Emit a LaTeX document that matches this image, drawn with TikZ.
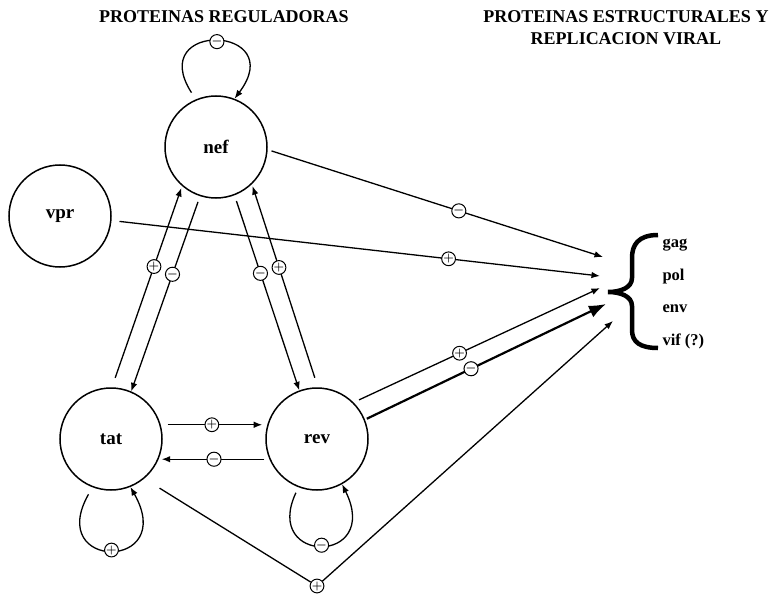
\documentclass[tikz,border=0pt]{standalone}
\usepackage{fontspec}
\setmainfont{Liberation Serif}
\usetikzlibrary{arrows.meta,positioning}

\begin{document}
\begin{tikzpicture}[
  x=1pt, y=-1pt,
  font=\bfseries,
  protein/.style={draw, circle, line width=1.5pt, minimum size=102pt, inner sep=0pt, font=\fontsize{19}{22}\selectfont\bfseries},
  sign/.style={draw, circle, line width=1pt, fill=white, minimum size=13.5pt, inner sep=0pt, font=\fontsize{12}{12}\selectfont\boldmath},
  heading/.style={align=center, font=\fontsize{18}{22}\selectfont\bfseries},
  gene/.style={anchor=west, font=\fontsize{16.5}{18}\selectfont\bfseries},
  link/.style={line width=1.3pt},
  arrow/.style={link, -{Latex[length=3mm, width=2.3mm]}},
  bigarrow/.style={line width=2.2pt, -{Latex[length=6mm, width=4.5mm]}}
]
  \useasboundingbox (0,0) rectangle (782,599);

  % headings
  \node[heading] (hreg) at (224,17) {PROTEINAS REGULADORAS};
  \node[heading] (hest) at (626,28) {PROTEINAS ESTRUCTURALES Y\\REPLICACION VIRAL};

  % regulatory proteins
  \node[protein] (nef) at (216,147) {nef};
  \node[protein] (vpr) at (60,216) {vpr};
  \node[protein] (tat) at (111,439) {tat};
  \node[protein] (rev) at (317,439) {rev};

  % structural genes
  \node[gene] (gag) at (659,245) {gag};
  \node[gene] (pol) at (659,277) {pol};
  \node[gene] (env) at (659,309) {env};
  \node[gene] (vif) at (659,341) {vif (?)};
  \draw[line width=4.5pt] (658,235) .. controls (638,235) and (632,245) .. (632,258) -- (632,278)
    .. controls (632,288) and (620,292) .. (608,292)
    .. controls (620,292) and (632,296) .. (632,306) -- (632,330)
    .. controls (632,342) and (640,348) .. (658,348);
  \coordinate (t1) at (603,257);
  \coordinate (t2) at (600,276);
  \coordinate (t3) at (600,288);
  \coordinate (t4) at (606,304);
  \coordinate (t5) at (613,321);

  % self loops
  \draw[arrow, shorten <=8pt] (nef.113) .. controls (145,20) and (290,25) .. node[sign, pos=.5] (snef) {$-$} (nef.69);
  \draw[arrow, shorten <=8pt] (tat.249) .. controls (45,571) and (178,571) .. node[sign, pos=.5] (stat) {$+$} (tat.292);
  \draw[arrow, shorten <=6pt] (rev.249) .. controls (262,565) and (382,565) .. node[sign, pos=.5] (srev) {$-$} (rev.299);

  % nef <-> tat, nef <-> rev
  \draw[arrow, shorten <=10pt, shorten >=2pt] (tat.89) -- node[sign, pos=.6] (s1) {$+$} (nef.229);
  \draw[arrow, shorten <=6pt] (nef.252) -- node[sign, pos=.4] (s2) {$-$} (tat.67);
  \draw[arrow, shorten <=6pt] (nef.291) -- node[sign, pos=.4] (s3) {$-$} (rev.110);
  \draw[arrow, shorten <=10pt, shorten >=2pt] (rev.89) -- node[sign, pos=.59] (s4) {$+$} (nef.314);

  % tat <-> rev
  \draw[arrow, shorten <=7pt, shorten >=5pt] (tat.16) -- node[sign, pos=.48] (s5) {$+$} (rev.164);
  \draw[arrow, shorten <=5pt, shorten >=3pt] (rev.203) -- node[sign, pos=.5] (s6) {$-$} (tat.337);

  % towards structural genes
  \draw[arrow, shorten <=4pt] (nef.-3) -- node[sign, pos=.57] (s7) {$-$} (t1);
  \draw[arrow, shorten <=8pt] (vpr.-5) -- node[sign, pos=.69] (s8) {$+$} (t2);
  \draw[arrow, shorten <=6pt] (rev.45) -- node[sign, pos=.43] (s9) {$+$} (t3);
  \draw[bigarrow, shorten <=2pt] (rev.22) -- node[sign, pos=.44] (s10) {$-$} (t4);
  \node[sign] (s11) at (317,586) {$+$};
  \draw[link, shorten <=18pt] (tat.-50) -- (s11);
  \draw[arrow] (s11) -- (t5);
\end{tikzpicture}
\end{document}
